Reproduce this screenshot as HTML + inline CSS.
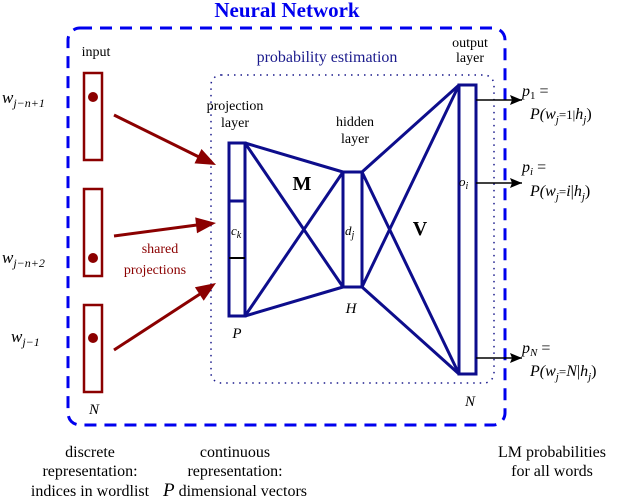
<!DOCTYPE html>
<html><head><meta charset="utf-8"><style>html,body{margin:0;padding:0;background:#fff}svg{display:block}</style></head>
<body>
<svg width="640" height="500" viewBox="0 0 640 500" xmlns="http://www.w3.org/2000/svg" font-family="Liberation Serif, serif">
<defs>
<marker id="ba" markerWidth="12" markerHeight="10" refX="12" refY="5" orient="auto" markerUnits="userSpaceOnUse" viewBox="0 0 12 10"><path d="M0,0 L12,5 L0,10 L2,5z" fill="#000"/></marker>
</defs>
<text x="287" y="17" text-anchor="middle" font-size="21" font-weight="bold" fill="#0000ee">Neural Network</text>
<rect x="68" y="28" width="437" height="397" rx="12" fill="none" stroke="#0000ee" stroke-width="3" stroke-dasharray="12,8"/>
<text x="327" y="62" text-anchor="middle" font-size="16" fill="#1a1a8c">probability estimation</text>
<rect x="211" y="75" width="283" height="308" rx="10" fill="none" stroke="#1a1a8c" stroke-width="1.5" stroke-dasharray="1.5,5"/>
<g fill="none" stroke="#8b0000" stroke-width="2.5">
<rect x="84" y="73" width="18" height="87"/><rect x="84" y="189" width="18" height="87"/><rect x="84" y="305" width="18" height="87"/>
</g>
<g fill="#8b0000"><circle cx="93" cy="97" r="5"/><circle cx="93" cy="258" r="5"/><circle cx="93" cy="338" r="5"/></g>
<g stroke="#8b0000" stroke-width="3" fill="none">
<line x1="114" y1="115" x2="199" y2="157"/>
<line x1="114" y1="236" x2="197" y2="225"/>
<line x1="114" y1="350" x2="200" y2="294"/>
</g>
<g fill="#8b0000">
<path d="M216,165 L194.5,163.4 L201.5,149z"/>
<path d="M216,223 L197,233.2 L195.2,217.4z"/>
<path d="M216,283 L203.7,300.7 L194.9,287.3z"/>
</g>
<text x="160" y="253" text-anchor="middle" font-size="14" fill="#8b0000">shared</text>
<text x="155" y="274" text-anchor="middle" font-size="14" fill="#8b0000">projections</text>
<text x="96" y="56" text-anchor="middle" font-size="14">input</text>
<text x="2" y="103" font-size="17" font-style="italic">w<tspan font-size="12" dy="4">j−n+1</tspan></text>
<text x="2" y="263" font-size="17" font-style="italic">w<tspan font-size="12" dy="4">j−n+2</tspan></text>
<text x="11" y="342" font-size="17" font-style="italic">w<tspan font-size="12" dy="4">j−1</tspan></text>
<text x="94" y="414" text-anchor="middle" font-size="15" font-style="italic">N</text>
<g stroke="#0d0d8c" stroke-width="3" fill="none">
<rect x="229" y="143" width="16" height="173"/>
<line x1="229" y1="201" x2="245" y2="201"/>
<rect x="343" y="172" width="19" height="115"/>
<rect x="459" y="85" width="17" height="289"/>
<line x1="245" y1="143" x2="343" y2="172"/><line x1="245" y1="143" x2="343" y2="287"/>
<line x1="245" y1="316" x2="343" y2="172"/><line x1="245" y1="316" x2="343" y2="287"/>
<line x1="362" y1="172" x2="459" y2="85"/><line x1="362" y1="172" x2="459" y2="374"/>
<line x1="362" y1="287" x2="459" y2="85"/><line x1="362" y1="287" x2="459" y2="374"/>
</g>
<line x1="229" y1="258" x2="245" y2="258" stroke="#000" stroke-width="2"/>
<text x="235" y="110" text-anchor="middle" font-size="14">projection</text>
<text x="235" y="127" text-anchor="middle" font-size="14">layer</text>
<text x="355" y="126" text-anchor="middle" font-size="14">hidden</text>
<text x="355" y="143" text-anchor="middle" font-size="14">layer</text>
<text x="470" y="47" text-anchor="middle" font-size="14">output</text>
<text x="470" y="62" text-anchor="middle" font-size="14">layer</text>
<text x="302" y="190" text-anchor="middle" font-size="20" font-weight="bold">M</text>
<text x="420" y="235" text-anchor="middle" font-size="20" font-weight="bold">V</text>
<text x="231" y="235" font-size="13" font-style="italic">c<tspan font-size="10" dy="3">k</tspan></text>
<text x="345" y="235" font-size="13" font-style="italic">d<tspan font-size="10" dy="3">j</tspan></text>
<text x="459" y="186" font-size="13" font-style="italic">o<tspan font-size="10" dy="3">i</tspan></text>
<text x="237" y="338" text-anchor="middle" font-size="15" font-style="italic">P</text>
<text x="351" y="313" text-anchor="middle" font-size="15" font-style="italic">H</text>
<text x="470" y="406" text-anchor="middle" font-size="15" font-style="italic">N</text>
<g stroke="#000" stroke-width="1.5" marker-end="url(#ba)">
<line x1="476" y1="100" x2="522" y2="100"/><line x1="476" y1="183" x2="522" y2="183"/><line x1="476" y1="358" x2="522" y2="358"/>
</g>
<g font-size="16" font-style="italic">
<text x="522" y="96">p<tspan font-size="11" dy="3" font-style="normal">1</tspan><tspan dy="-3" font-style="normal"> =</tspan></text>
<text x="530" y="119">P(w<tspan font-size="11" dy="4">j</tspan><tspan dy="-4" font-style="normal" font-size="13">=1|</tspan>h<tspan font-size="11" dy="4">j</tspan><tspan dy="-4" font-style="normal">)</tspan></text>
<text x="522" y="172">p<tspan font-size="11" dy="3">i</tspan><tspan dy="-3" font-style="normal"> =</tspan></text>
<text x="530" y="196">P(w<tspan font-size="11" dy="4">j</tspan><tspan dy="-4" font-style="normal" font-size="13">=</tspan>i<tspan font-style="normal">|</tspan>h<tspan font-size="11" dy="4">j</tspan><tspan dy="-4" font-style="normal">)</tspan></text>
<text x="522" y="353">p<tspan font-size="11" dy="3">N</tspan><tspan dy="-3" font-style="normal"> =</tspan></text>
<text x="530" y="376">P(w<tspan font-size="11" dy="4">j</tspan><tspan dy="-4" font-style="normal" font-size="13">=</tspan>N<tspan font-style="normal">|</tspan>h<tspan font-size="11" dy="4">j</tspan><tspan dy="-4" font-style="normal">)</tspan></text>
</g>
<g font-size="16" text-anchor="middle">
<text x="90" y="457">discrete</text><text x="90" y="476">representation:</text><text x="90" y="496">indices in wordlist</text>
<text x="235" y="457">continuous</text><text x="235" y="476">representation:</text>
<text x="235" y="496"><tspan font-style="italic" font-size="19">P</tspan> dimensional vectors</text>
<text x="552" y="457">LM probabilities</text><text x="552" y="476">for all words</text>
</g>
</svg>
</body></html>
